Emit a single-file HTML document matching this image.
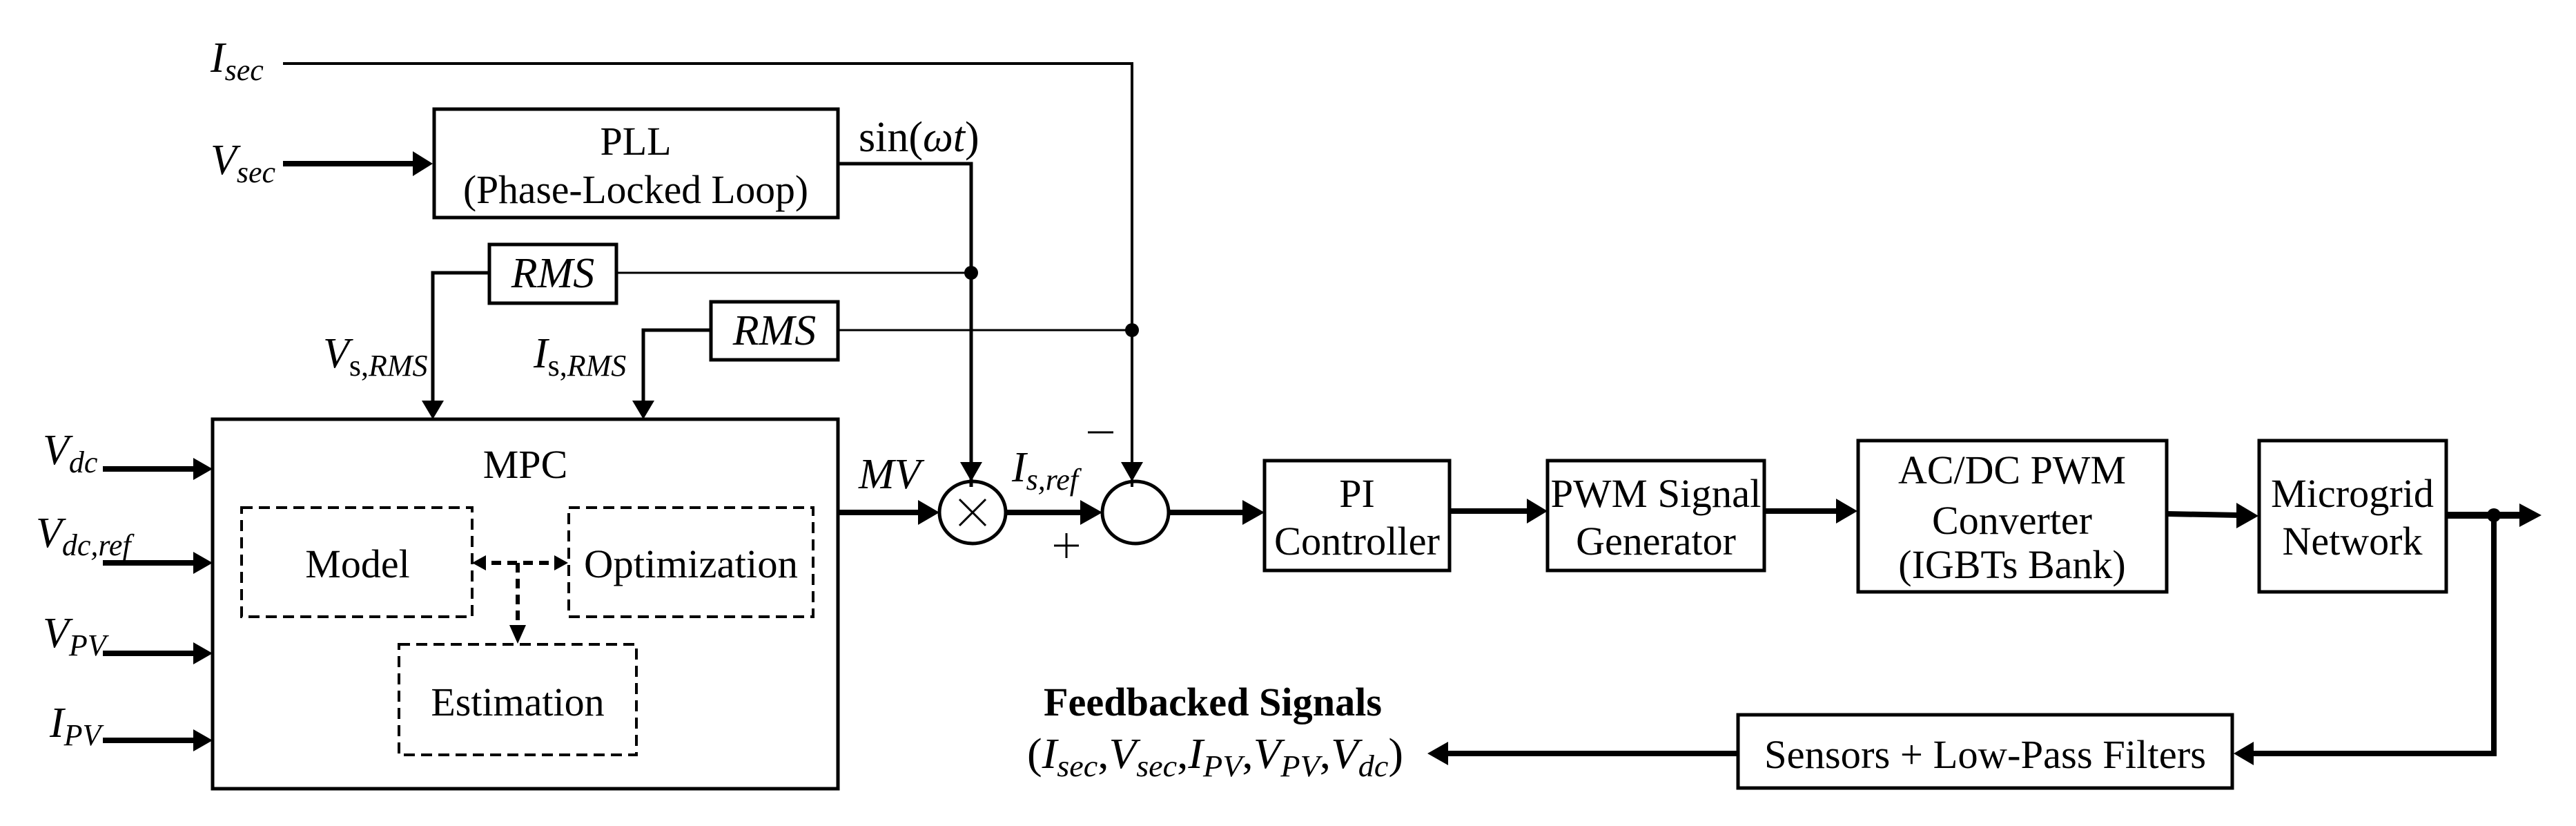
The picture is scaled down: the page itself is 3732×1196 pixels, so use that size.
<!DOCTYPE html>
<html><head><meta charset="utf-8"><style>html,body{margin:0;padding:0;background:#fff}svg{display:block}text{font-family:"Liberation Serif","DejaVu Serif",serif}</style></head>
<body>
<svg width="3732" height="1196" viewBox="0 0 3732 1196" xmlns="http://www.w3.org/2000/svg" fill="#000">
<g fill="none" stroke="#000">
<polyline points="410,92 1640,92 1640,705" stroke-width="4"/>
<line x1="410" y1="237" x2="600" y2="237" stroke-width="8"/>
<rect x="629" y="158" width="585" height="157" stroke-width="5"/>
<polyline points="1214,237 1407,237 1407,705" stroke-width="5"/>
<rect x="709" y="354" width="184" height="85" stroke-width="5"/>
<line x1="893" y1="395" x2="1407" y2="395" stroke-width="3"/>
<polyline points="709,395 627,395 627,580" stroke-width="5"/>
<rect x="1030" y="437" width="184" height="84" stroke-width="5"/>
<line x1="1214" y1="478" x2="1640" y2="478" stroke-width="3"/>
<polyline points="1030,478 932,478 932,580" stroke-width="5"/>
<rect x="308" y="607" width="906" height="535" stroke-width="5"/>
<rect x="350" y="735" width="334" height="158" stroke-width="4" stroke-dasharray="16,9"/>
<rect x="824" y="735" width="354" height="158" stroke-width="4" stroke-dasharray="16,9"/>
<rect x="578" y="933" width="344" height="160" stroke-width="4" stroke-dasharray="16,9"/>
<line x1="712" y1="815" x2="796" y2="815" stroke-width="6" stroke-dasharray="14,9"/>
<line x1="750" y1="815" x2="750" y2="905" stroke-width="6" stroke-dasharray="14,9"/>
<line x1="149" y1="679" x2="285" y2="679" stroke-width="8"/>
<line x1="149" y1="815" x2="285" y2="815" stroke-width="8"/>
<line x1="149" y1="946" x2="285" y2="946" stroke-width="8"/>
<line x1="149" y1="1072" x2="285" y2="1072" stroke-width="8"/>
<line x1="1216" y1="742" x2="1335" y2="742" stroke-width="8"/>
<ellipse cx="1409" cy="742" rx="48" ry="45" stroke-width="5"/>
<line x1="1390" y1="723" x2="1428" y2="761" stroke-width="3"/>
<line x1="1428" y1="723" x2="1390" y2="761" stroke-width="3"/>
<line x1="1457" y1="742" x2="1570" y2="742" stroke-width="8"/>
<ellipse cx="1645" cy="742" rx="48" ry="45" stroke-width="5"/>
<line x1="1693" y1="742" x2="1805" y2="742" stroke-width="8"/>
<line x1="1576" y1="626" x2="1613" y2="626" stroke-width="3"/>
<line x1="1527" y1="790" x2="1563" y2="790" stroke-width="3"/>
<line x1="1545" y1="772" x2="1545" y2="808" stroke-width="3"/>
<rect x="1832" y="667" width="268" height="159" stroke-width="5"/>
<line x1="2100" y1="740" x2="2215" y2="740" stroke-width="8"/>
<rect x="2242" y="667" width="314" height="159" stroke-width="5"/>
<line x1="2556" y1="740" x2="2663" y2="740" stroke-width="8"/>
<rect x="2692" y="638" width="447" height="219" stroke-width="5"/>
<line x1="3139" y1="744" x2="3245" y2="746" stroke-width="8"/>
<rect x="3273" y="638" width="271" height="219" stroke-width="5"/>
<line x1="3544" y1="746" x2="3655" y2="746" stroke-width="10"/>
<polyline points="3613,746 3613,1091 3262,1091" stroke-width="8"/>
<rect x="2518" y="1035" width="716" height="106" stroke-width="5"/>
<line x1="2517" y1="1091" x2="2095" y2="1091" stroke-width="8"/>
</g>
<polygon points="598,219 627,237 598,255"/>
<polygon points="611,580 627,607 643,580"/>
<polygon points="916,580 932,607 948,580"/>
<polygon points="280,663 308,679 280,695"/>
<polygon points="280,799 308,815 280,831"/>
<polygon points="280,930 308,946 280,962"/>
<polygon points="280,1056 308,1072 280,1088"/>
<polygon points="1330,724 1361,742 1330,760"/>
<polygon points="1565,724 1597,742 1565,760"/>
<polygon points="1800,724 1832,742 1800,760"/>
<polygon points="1391,669 1407,697 1423,669"/>
<polygon points="1624,669 1640,697 1656,669"/>
<polygon points="2212,722 2242,740 2212,758"/>
<polygon points="2660,722 2691,740 2660,758"/>
<polygon points="3240,728 3272,747 3240,765"/>
<polygon points="3650,729 3682,746 3650,763"/>
<polygon points="3265,1074 3236,1091 3265,1108"/>
<polygon points="2098,1074 2068,1091 2098,1108"/>
<polygon points="684,815 704,804 704,826"/>
<polygon points="823,815 803,804 803,826"/>
<polygon points="738,905 750,932 762,905"/>
<circle cx="1407" cy="395" r="10"/>
<circle cx="1640" cy="478" r="10"/>
<circle cx="3613" cy="746" r="10"/>
<g font-size="58" text-anchor="middle">
<text x="921" y="224">PLL</text>
<text x="921" y="294" textLength="500" lengthAdjust="spacingAndGlyphs">(Phase-Locked Loop)</text>
<text x="761" y="692">MPC</text>
<text x="518" y="836">Model</text>
<text x="1001" y="836" textLength="310" lengthAdjust="spacingAndGlyphs">Optimization</text>
<text x="750" y="1036">Estimation</text>
<text x="1966" y="734">PI</text>
<text x="1966" y="803" textLength="240" lengthAdjust="spacingAndGlyphs">Controller</text>
<text x="2399" y="734" textLength="305" lengthAdjust="spacingAndGlyphs">PWM Signal</text>
<text x="2399" y="803">Generator</text>
<text x="2915" y="700" textLength="330" lengthAdjust="spacingAndGlyphs">AC/DC PWM</text>
<text x="2915" y="773">Converter</text>
<text x="2915" y="837">(IGBTs Bank)</text>
<text x="3408" y="734" textLength="236" lengthAdjust="spacingAndGlyphs">Microgrid</text>
<text x="3408" y="803">Network</text>
<text x="2876" y="1112" textLength="640" lengthAdjust="spacingAndGlyphs">Sensors + Low-Pass Filters</text>
<text x="1757" y="1036" font-weight="bold" textLength="490" lengthAdjust="spacingAndGlyphs">Feedbacked Signals</text>
</g>
<g font-size="62" font-style="italic">
<text x="801" y="416" text-anchor="middle">RMS</text>
<text x="1122" y="499" text-anchor="middle">RMS</text>
<text x="1244" y="219" font-style="normal">sin(<tspan font-style="italic">ωt</tspan>)</text>
<text x="305" y="104">I<tspan font-size="44" dy="12">sec</tspan></text>
<text x="305" y="252">V<tspan font-size="44" dy="12">sec</tspan></text>
<text x="468" y="532">V<tspan font-size="44" dy="12" font-style="normal">s,</tspan><tspan font-size="44">RMS</tspan></text>
<text x="773" y="532">I<tspan font-size="44" dy="12" font-style="normal">s,</tspan><tspan font-size="44">RMS</tspan></text>
<text x="62" y="672">V<tspan font-size="44" dy="12">dc</tspan></text>
<text x="52" y="792">V<tspan font-size="44" dy="12">dc,ref</tspan></text>
<text x="62" y="937">V<tspan font-size="44" dy="12">PV</tspan></text>
<text x="72" y="1067">I<tspan font-size="44" dy="12">PV</tspan></text>
<text x="1244" y="707">MV</text>
<text x="1466" y="697">I<tspan font-size="44" dy="12">s,ref</tspan></text>
<text x="1488" y="1112" textLength="545" lengthAdjust="spacingAndGlyphs"><tspan font-style="normal">(</tspan>I<tspan font-size="44" dy="12">sec</tspan><tspan dy="-12" font-style="normal">,</tspan>V<tspan font-size="44" dy="12">sec</tspan><tspan dy="-12" font-style="normal">,</tspan>I<tspan font-size="44" dy="12">PV</tspan><tspan dy="-12" font-style="normal">,</tspan>V<tspan font-size="44" dy="12">PV</tspan><tspan dy="-12" font-style="normal">,</tspan>V<tspan font-size="44" dy="12">dc</tspan><tspan dy="-12" font-style="normal">)</tspan></text>
</g>
</svg>
</body></html>
